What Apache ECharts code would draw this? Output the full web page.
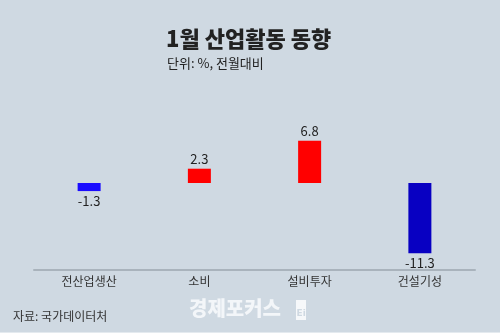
<!DOCTYPE html>
<html>
<head>
<meta charset="utf-8">
<script src="https://cdn.jsdelivr.net/npm/echarts@6/dist/echarts.min.js"></script>
<style>
  html, body { margin: 0; padding: 0; background: #cfd9e2; }
  #chart { width: 500px; height: 333px; }
</style>
</head>
<body>
<div id="chart"></div>
<script>
// 1월 산업활동 동향 (전월대비, %)
const categories = ['전산업생산', '소비', '설비투자', '건설기성'];
const values = [-1.3, 2.3, 6.8, -11.3];
const barColors = ['#1a0cff', '#ff0000', '#ff0000', '#0800c2'];

const FONT = '"Noto Sans CJK KR", "Noto Sans", sans-serif';
const chart = echarts.init(document.getElementById('chart'));

chart.setOption({
  backgroundColor: '#cfd9e2',
  animation: false,
  textStyle: { fontFamily: FONT },
  grid: { left: 34, right: 25, top: 96, height: 174 },
  xAxis: {
    type: 'category',
    data: categories,
    axisLine: { onZero: false, lineStyle: { color: '#a9b3bc', width: 2 } },
    axisTick: { show: false },
    axisLabel: { color: '#333', fontSize: 12, margin: 5, fontFamily: FONT }
  },
  yAxis: {
    type: 'value',
    min: -14,
    max: 14,
    show: false,
    splitLine: { show: false }
  },
  series: [{
    type: 'bar',
    barWidth: 23,
    data: values.map((v, i) => ({
      value: v,
      itemStyle: { color: barColors[i] },
      label: { position: v < 0 ? 'bottom' : 'top' }
    })),
    label: {
      show: true,
      distance: 3,
      color: '#222',
      fontSize: 13,
      fontFamily: FONT
    }
  }],
  graphic: [
    {
      type: 'text', left: 166, top: 28,
      style: { text: '1월 산업활동 동향', font: '900 22px ' + FONT, fill: '#222' }
    },
    {
      type: 'text', left: 167, top: 57,
      style: { text: '단위: %, 전월대비', font: '13px ' + FONT, fill: '#222' }
    },
    {
      type: 'text', left: 13, top: 310,
      style: { text: '자료: 국가데이터처', font: '12px ' + FONT, fill: '#333' }
    },
    {
      type: 'text', left: 189, top: 298,
      style: { text: '경제포커스', font: '900 20px ' + FONT, fill: '#f3f6f9' }
    },
    {
      type: 'rect', shape: { x: 296, y: 300, width: 10, height: 20 },
      style: { fill: '#f6f8fa' }
    },
    {
      type: 'text', left: 296.5, top: 309,
      style: { text: 'Ei', font: 'bold 9px "DejaVu Sans", sans-serif', fill: '#cfd9e2' }
    },
    {
      type: 'rect', shape: { x: 0, y: 332, width: 500, height: 1 },
      style: { fill: '#e4eaef' }
    }
  ]
});
</script>
</body>
</html>
